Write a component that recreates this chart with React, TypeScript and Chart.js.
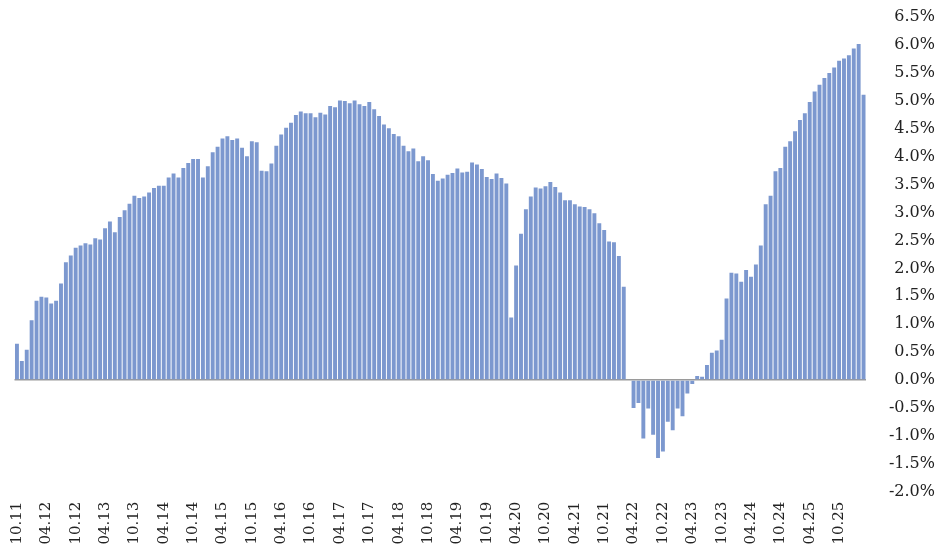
import React, { useEffect, useRef } from 'react';
import { Chart, registerables } from 'chart.js';

Chart.register(...registerables);

// Monthly series, starting October 2011
const startYear = 2011;
const startMonth = 10;

const values: number[] = [
  0.65, 0.34, 0.54, 1.07, 1.42, 1.49, 1.48, 1.37, 1.42, 1.73,
  2.11, 2.23, 2.37, 2.41, 2.45, 2.43, 2.54, 2.52, 2.72, 2.84,
  2.65, 2.92, 3.04, 3.16, 3.30, 3.26, 3.29, 3.36, 3.44, 3.48,
  3.48, 3.63, 3.70, 3.63, 3.80, 3.89, 3.96, 3.96, 3.63, 3.83,
  4.08, 4.18, 4.33, 4.37,
  4.30, 4.33, 4.16, 4.01, 4.28, 4.26, 3.75, 3.74, 3.88, 4.20,
  4.40, 4.52, 4.61, 4.75, 4.81, 4.78, 4.78, 4.71, 4.79, 4.76,
  4.91, 4.89, 5.01, 5.00, 4.96, 5.01, 4.94, 4.91, 4.98, 4.85,
  4.73, 4.58, 4.51, 4.41, 4.37, 4.20, 4.10, 4.15, 3.92, 4.01,
  3.94, 3.69, 3.57, 3.61,
  3.68, 3.71, 3.79, 3.72, 3.73, 3.90, 3.86, 3.78, 3.64, 3.60,
  3.70, 3.62, 3.52, 1.12, 2.05, 2.62, 3.06, 3.29, 3.45, 3.43,
  3.47, 3.55, 3.46, 3.36, 3.22, 3.22, 3.15, 3.11, 3.10, 3.06,
  2.99, 2.81, 2.69, 2.48, 2.47, 2.22, 1.67, 0.00, -0.50, -0.41,
  -1.05, -0.51, -0.98, -1.40,
  -1.28, -0.75, -0.90, -0.51, -0.65, -0.24, -0.07, 0.07, 0.06, 0.27,
  0.49, 0.53, 0.72, 1.46, 1.92, 1.91, 1.76, 1.97, 1.85, 2.07,
  2.41, 3.15, 3.30, 3.74, 3.80, 4.18, 4.28, 4.46, 4.66, 4.78,
  4.98, 5.17, 5.29, 5.41, 5.50, 5.60, 5.72, 5.76, 5.82, 5.94,
  6.02, 5.11,
];

const tickLabels: string[] = [
  '10.11', '04.12', '10.12', '04.13', '10.13', '04.14', '10.14', '04.15',
  '10.15', '04.16', '10.16', '04.17', '10.17', '04.18', '10.18', '04.19',
  '10.19', '04.20', '10.20', '04.21', '10.21', '04.22', '10.22', '04.23',
  '10.23', '04.24', '10.24', '04.25', '10.25',
];

const categories: string[] = values.map((_, i) => {
  const k = startMonth - 1 + i;
  const m = (k % 12) + 1;
  const y = startYear + Math.floor(k / 12);
  return String(m).padStart(2, '0') + '.' + String(y % 100).padStart(2, '0');
});

const FONT = "'DejaVu Serif', 'Liberation Serif', serif";

export default function App() {
  const ref = useRef<HTMLCanvasElement | null>(null);

  useEffect(() => {
    if (!ref.current) return;
    const chart = new Chart(ref.current, {
      type: 'bar',
      data: {
        labels: categories,
        datasets: [
          {
            data: values,
            backgroundColor: '#7c98cf',
            borderWidth: 0,
            barPercentage: 0.8,
            categoryPercentage: 1.0,
          },
        ],
      },
      options: {
        animation: false,
        responsive: true,
        maintainAspectRatio: false,
        layout: { padding: { left: 14.5, top: 17.3, right: 7, bottom: 0 } },
        plugins: {
          legend: { display: false },
          tooltip: { enabled: false },
        },
        scales: {
          x: {
            grid: { display: false, drawTicks: false },
            border: { display: false },
            ticks: {
              autoSkip: false,
              minRotation: 90,
              maxRotation: 90,
              padding: 10,
              color: '#222',
              font: { family: FONT, size: 15 },
              callback: (_v: any, index: number) => {
                const lab = categories[index];
                return tickLabels.includes(lab) ? lab : '';
              },
            },
            afterFit: (scale: any) => {
              scale.height = 56.4;
            },
          },
          y: {
            position: 'right',
            min: -2,
            max: 6.5,
            z: 1,
            border: { display: false },
            grid: {
              drawTicks: false,
              lineWidth: 1.5,
              color: (ctx: any) => (ctx.tick && ctx.tick.value === 0 ? '#9a9a9a' : 'rgba(0,0,0,0)'),
            },
            ticks: {
              stepSize: 0.5,
              crossAlign: 'far',
              padding: 0,
              color: '#222',
              font: { family: FONT, size: 16 },
              callback: (v: any) => Number(v).toFixed(1) + '%',
            },
            afterFit: (scale: any) => {
              scale.width = 69;
            },
          },
        },
      },
    });
    return () => chart.destroy();
  }, []);

  return (
    <div style={{ position: 'absolute', left: 0, top: 0, width: 942, height: 548 }}>
      <canvas ref={ref} />
    </div>
  );
}
